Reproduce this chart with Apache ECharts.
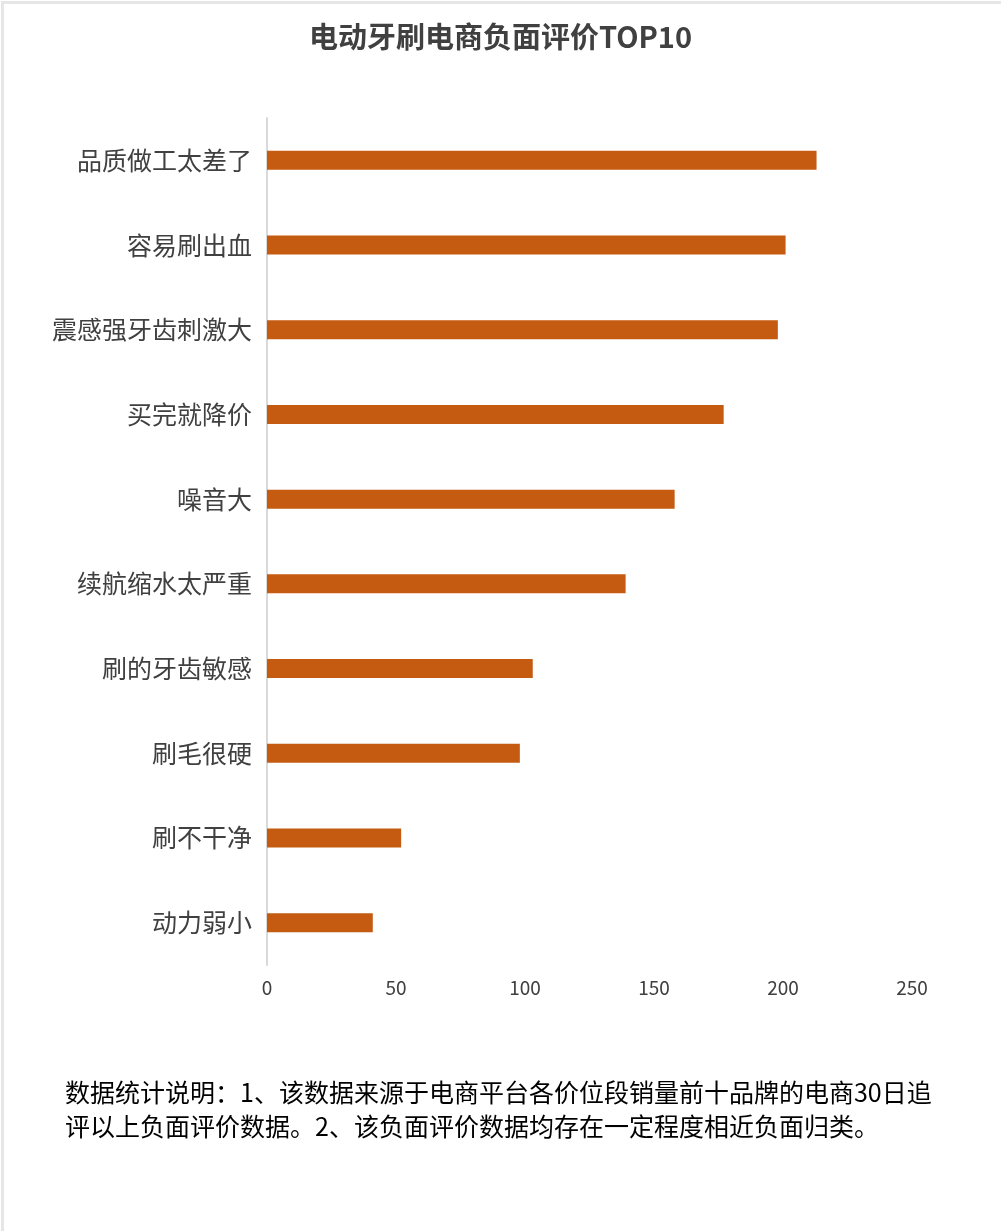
<!DOCTYPE html>
<html><head><meta charset="utf-8">
<script src="https://cdn.jsdelivr.net/npm/echarts@6/dist/echarts.min.js"></script>
<style>
html,body{margin:0;padding:0;background:#fff;}
#c{width:1001px;height:1231px;box-sizing:border-box;}
</style></head>
<body><div id="c"></div>
<script>
const titleText = '电动牙刷电商负面评价TOP10';
const categories = ['品质做工太差了','容易刷出血','震感强牙齿刺激大','买完就降价','噪音大','续航缩水太严重','刷的牙齿敏感','刷毛很硬','刷不干净','动力弱小'];
const values = [213, 201, 198, 177, 158, 139, 103, 98, 52, 41];
const xTicks = [0, 50, 100, 150, 200, 250];
const noteLines = ['数据统计说明：1、该数据来源于电商平台各价位段销量前十品牌的电商30日追','评以上负面评价数据。2、该负面评价数据均存在一定程度相近负面归类。'];

const font = '"Noto Sans CJK SC", "Microsoft YaHei", sans-serif';
const chart = echarts.init(document.getElementById('c'), null, {renderer:'canvas'});
chart.setOption({
  backgroundColor: '#fff',
  animation: false,
  title: {
    text: titleText, left: 'center', top: 17,
    textStyle: {fontFamily: font, fontSize: 29, fontWeight: 'bold', color: '#404040'}
  },
  grid: {left: 267, right: 89, top: 118, bottom: 266, containLabel: false},
  xAxis: {
    type: 'value', min: xTicks[0], max: xTicks[xTicks.length-1], interval: 50,
    axisLine: {show: false}, axisTick: {show: false}, splitLine: {show: false},
    axisLabel: {fontFamily: font, fontSize: 19, color: '#404040', margin: 13}
  },
  yAxis: {
    type: 'category', data: categories, inverse: true,
    axisLine: {show: true, lineStyle: {color: '#d9d9d9', width: 2}},
    axisTick: {show: false},
    axisLabel: {fontFamily: font, fontSize: 25, color: '#404040', margin: 15}
  },
  series: [{
    type: 'bar', data: values, barWidth: 19,
    itemStyle: {color: '#C55A11'}
  }],
  graphic: [
    {type: 'rect', left: 0, top: 0, shape: {width: 1001, height: 1231}, silent: true,
     style: {fill: 'none', stroke: '#e6e6e6', lineWidth: 3}},
    {type: 'text', left: 65, top: 1080, style: {text: noteLines[0], font: '25px ' + font, fill: '#000'}},
    {type: 'text', left: 65, top: 1114, style: {text: noteLines[1], font: '25px ' + font, fill: '#000'}}
  ]
});
</script></body></html>
